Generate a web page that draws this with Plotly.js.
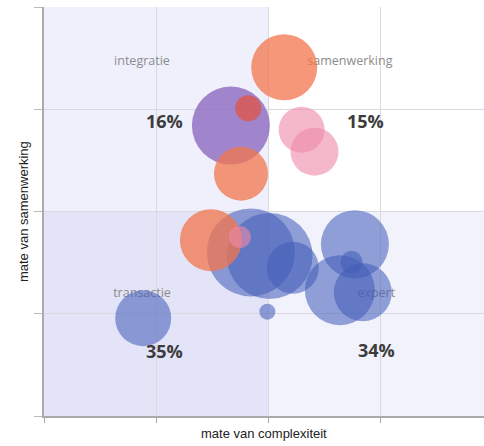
<!DOCTYPE html>
<html>
<head>
<meta charset="utf-8">
<script src="https://cdn.plot.ly/plotly-3.0.1.min.js"></script>
<style>
html,body{margin:0;padding:0;background:#fff;}
#chart{width:484px;height:446px;}
</style>
</head>
<body>
<div id="chart"></div>
<script>
// ---- data ----
const bubbleX     = [1.665, 2.14, 1.755, 1.487, 1.82, 1.843, 2.01, 2.217, 2.77, 2.636, 2.84, 2.74, 1.99, 0.884, 2.295, 2.41, 1.745];
const bubbleY     = [2.84, 3.41, 2.37, 1.72, 3.01, 1.60, 1.565, 1.45, 1.68, 1.23, 1.21, 1.505, 1.02, 0.956, 2.80, 2.585, 1.75];
const bubbleSize  = [78, 66, 54, 62, 26, 88, 86, 52, 68, 70, 58, 22, 16, 56, 46, 48, 22];
const bubbleGroup = ['purple','orange','orange','orange','red','blue','blue','blue','blue','blue','blue','blue','blue','blue','pink','pink','pink'];

const quadrantNames = ['integratie', 'samenwerking', 'transactie', 'expert'];
const quadrantNameX = [0.873, 2.725, 0.873, 2.96];
const quadrantNameY = [3.46, 3.46, 1.19, 1.19];

const shareLabels = ['16%', '15%', '35%', '34%'];
const shareX      = [1.077, 2.867, 1.077, 2.965];
const shareY      = [2.885, 2.885, 0.636, 0.645];

const xTitle = 'mate van complexiteit';
const yTitle = 'mate van samenwerking';

// ---- styles ----
const groupOrder = ['blue', 'purple', 'orange', 'red', 'pink'];
const groupStyle = {
  purple: {color: 'rgb(135,98,188)', opacity: 0.75},
  orange: {color: 'rgb(242,118,78)', opacity: 0.76},
  red:    {color: 'rgb(226,80,62)',  opacity: 0.72},
  blue:   {color: 'rgb(66,92,184)',  opacity: 0.56},
  pink:   {color: 'rgb(238,136,168)', opacity: 0.6}
};

const traces = [];
traces.push({
  type: 'scatter', mode: 'text',
  x: quadrantNameX, y: quadrantNameY, text: quadrantNames,
  textfont: {family: 'Open Sans, sans-serif', size: 12.5, color: '#8c8c8c'},
  hoverinfo: 'skip', showlegend: false
});
groupOrder.forEach(function (g) {
  const xs = [], ys = [], ss = [];
  bubbleGroup.forEach(function (gg, i) {
    if (gg === g) { xs.push(bubbleX[i]); ys.push(bubbleY[i]); ss.push(bubbleSize[i]); }
  });
  traces.push({
    type: 'scatter', mode: 'markers', x: xs, y: ys, name: g,
    marker: {size: ss, sizemode: 'diameter', color: groupStyle[g].color,
             opacity: groupStyle[g].opacity, line: {width: 0}},
    showlegend: false
  });
});

const shapes = [
  {x0: 0, x1: 2, y0: 0, y1: 2, color: '#e4e4f8'},
  {x0: 0, x1: 2, y0: 2, y1: 4, color: '#f0f0fc'},
  {x0: 2, x1: 4, y0: 0, y1: 2, color: '#f2f2fd'}
].map(function (q) {
  return {type: 'rect', xref: 'x', yref: 'y', x0: q.x0, x1: q.x1, y0: q.y0, y1: q.y1,
          fillcolor: q.color, line: {width: 0}, layer: 'below'};
});

const annotations = shareLabels.map(function (t, i) {
  return {x: shareX[i], y: shareY[i], xref: 'x', yref: 'y', text: t, showarrow: false,
          font: {family: 'Open Sans, sans-serif', size: 18, color: '#3c3c3c', weight: 'bold'}};
});
annotations.push({x: 0.5, y: -0.065, xref: 'paper', yref: 'paper', text: xTitle, showarrow: false,
  font: {family: 'Liberation Sans, Arial, sans-serif', size: 13, color: '#222'}});
annotations.push({x: -0.068, y: 0.5, xref: 'paper', yref: 'paper', text: yTitle, showarrow: false, textangle: -90,
  font: {family: 'Liberation Sans, Arial, sans-serif', size: 13, color: '#222'}});

const layout = {
  width: 484, height: 446,
  margin: {l: 44, r: 0, t: 7, b: 30, pad: 0},
  paper_bgcolor: '#ffffff', plot_bgcolor: '#ffffff',
  showlegend: false,
  xaxis: {range: [0, 3.92], tick0: 0, dtick: 1, showticklabels: false, ticks: 'outside', ticklen: 5,
          tickcolor: '#aaaaaa', showgrid: true, gridcolor: '#d9d9e2', gridwidth: 1,
          showline: true, linecolor: '#aaaaaa', linewidth: 2, zeroline: false, fixedrange: true},
  yaxis: {range: [0, 4], tick0: 0, dtick: 1, showticklabels: false, ticks: 'outside', ticklen: 8,
          tickcolor: '#bbbbbb', showgrid: true, gridcolor: '#d9d9e2', gridwidth: 1,
          showline: true, linecolor: '#aaaaaa', linewidth: 2, zeroline: false, fixedrange: true},
  shapes: shapes,
  annotations: annotations
};

Plotly.newPlot('chart', traces, layout, {displayModeBar: false, staticPlot: true});
</script>
</body>
</html>
